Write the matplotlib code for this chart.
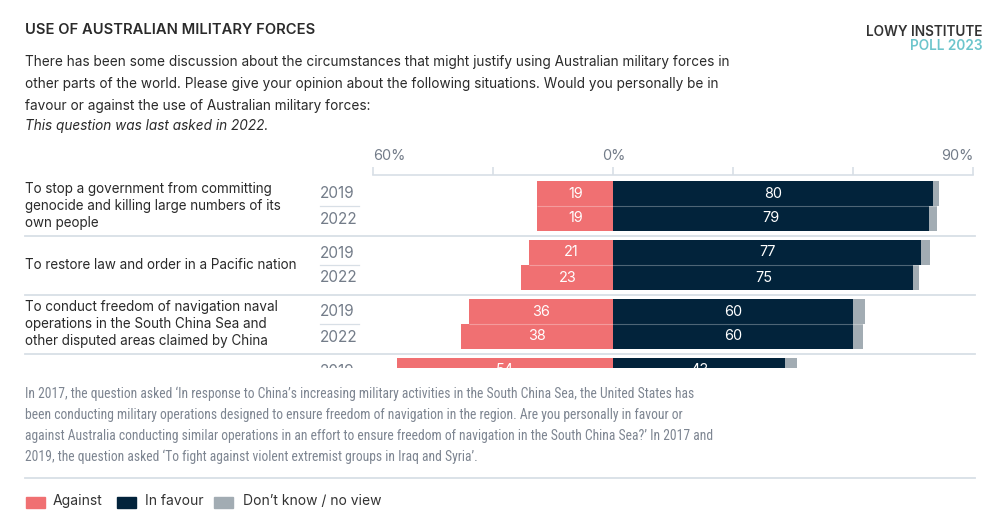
import matplotlib
matplotlib.use("Agg")
import matplotlib.pyplot as plt
from matplotlib.transforms import blended_transform_factory
from matplotlib import font_manager

# ---------------- data ----------------
groups = [
    "To stop a government from committing\ngenocide and killing large numbers of its\nown people",
    "To restore law and order in a Pacific nation",
    "To conduct freedom of navigation naval\noperations in the South China Sea and\nother disputed areas claimed by China",
    "To fight against violent extremist groups in\nIraq and Syria",
]
years = [["2019", "2022"], ["2019", "2022"], ["2019", "2022"], ["2019"]]
against = [[19, 19], [21, 23], [36, 38], [54]]
favour = [[80, 79], [77, 75], [60, 60], [43]]
dont_know = [[1.5, 1.8], [2.2, 1.3], [2.9, 2.5], [2.9]]
tick_values = [-60, -30, 0, 30, 60, 90]
tick_labels = ["60%", "", "0%", "", "", "90%"]
legend_labels = ["Against", "In favour", "Don\u2019t know / no view"]

RED = "#F07072"
NAVY = "#02233B"
GREY = "#A2ACB3"
LINE = "#D8DFE6"
TXT = "#2A2A2A"
MUTED = "#737C89"
TEAL = "#6CC5CC"

installed = {f.name for f in font_manager.fontManager.ttflist}
MAIN = ["Inter", "DejaVu Sans"] if "Inter" in installed else ["DejaVu Sans"]
plt.rcParams["font.family"] = MAIN

# find a condensed face for the footnote
NARROW_FAMILY, NARROW_STRETCH = None, "normal"
for cand in ["Roboto Condensed", "Liberation Sans Narrow", "Open Sans Condensed",
             "Noto Sans Condensed", "DejaVu Sans Condensed"]:
    if cand in installed:
        NARROW_FAMILY = cand
        break
if NARROW_FAMILY is None:
    for fam in ["Noto Sans", "Open Sans", "DejaVu Sans", "Roboto"]:
        try:
            p = font_manager.findfont(font_manager.FontProperties(family=fam, stretch="condensed"),
                                      fallback_to_default=False)
            if "ondensed" in p or "arrow" in p:
                NARROW_FAMILY, NARROW_STRETCH = fam, "condensed"
                break
        except Exception:
            pass

W, H = 1000, 525
fig = plt.figure(figsize=(W / 100, H / 100), dpi=100)


def fy(y):
    return 1 - y / H


# ---------------- header ----------------
fig.text(25 / W, fy(30), "USE OF AUSTRALIAN MILITARY FORCES", fontsize=10.6,
         fontweight="semibold", color=TXT, va="center", ha="left")
fig.text(982 / W, fy(32), "LOWY INSTITUTE", fontsize=9.8, fontweight="semibold",
         color="#333333", va="center", ha="right")
fig.text(982 / W, fy(46), "POLL 2023", fontsize=9.8, fontweight="semibold",
         color=TEAL, va="center", ha="right")
question = ["There has been some discussion about the circumstances that might justify using Australian military forces in",
            "other parts of the world. Please give your opinion about the following situations. Would you personally be in",
            "favour or against the use of Australian military forces:"]
for i, line in enumerate(question):
    fig.text(25 / W, fy(62 + 22 * i), line, fontsize=9.8, color=TXT, va="center")
fig.text(25 / W, fy(126), "This question was last asked in 2022.", fontsize=9.8,
         color=TXT, va="center", style="italic")

# ---------------- chart axes (y in pixel rows, x in percent) ----------------
x0_px, px_per_pct = 613.33, 4.0
Y_BOTTOM, Y_TOP = 368, 140
ax = fig.add_axes([0, fy(Y_BOTTOM), 1, (Y_BOTTOM - Y_TOP) / H])
ax.set_xlim((0 - x0_px) / px_per_pct, (W - x0_px) / px_per_pct)
ax.set_ylim(Y_BOTTOM, Y_TOP)
for s in ["left", "right", "bottom"]:
    ax.spines[s].set_visible(False)
ax.spines["top"].set_position(("data", 175))
ax.spines["top"].set_bounds(tick_values[0], tick_values[-1])
ax.spines["top"].set_color(LINE)
ax.spines["top"].set_linewidth(1.2)
ax.xaxis.set_ticks_position("top")
ax.set_xticks(tick_values)
ax.set_xticklabels(tick_labels)
ax.tick_params(axis="x", direction="out", length=5.5, width=1.2, color=LINE,
               labelcolor=MUTED, labelsize=10.4, pad=3)
lbls = ax.get_xticklabels()
lbls[0].set_ha("left")
lbls[-1].set_ha("right")
ax.set_yticks([])
ax.patch.set_alpha(0)

bt = blended_transform_factory(fig.transFigure, ax.transData)

TOP, ROW, GAP = 181, 25, 9
for g, name in enumerate(groups):
    gtop = TOP + g * (2 * ROW + GAP)
    # the panel is scrolled: labels of rows below the visible window are hidden
    if gtop + ROW < Y_BOTTOM:
        ax.text(25 / W, gtop + ROW, name, transform=bt, fontsize=9.7, color=TXT,
                va="center", ha="left", linespacing=1.25, clip_on=True)
    for r, yr in enumerate(years[g]):
        yc = gtop + ROW * r + ROW / 2
        a, f, d = against[g][r], favour[g][r], dont_know[g][r]
        ax.barh(yc, -a, height=ROW, left=0, color=RED, linewidth=0)
        ax.barh(yc, f, height=ROW, left=0, color=NAVY, linewidth=0)
        ax.barh(yc, d, height=ROW, left=f, color=GREY, linewidth=0)
        ax.text(-a / 2, yc, f"{a:g}", color="white", fontsize=10.4,
                ha="center", va="center", clip_on=True)
        ax.text(f / 2, yc, f"{f:g}", color="white", fontsize=10.4,
                ha="center", va="center", clip_on=True)
        ax.text(320 / W, yc + 0.5, yr, transform=bt, fontsize=11, color=MUTED,
                ha="left", va="center", clip_on=True)
    if len(years[g]) == 2:
        yb = gtop + ROW
        ax.plot([320 / W, 359 / W], [yb, yb], transform=bt, color=LINE, lw=0.9,
                clip_on=True)
        lo = -min(against[g])
        hi = min(favour[g][k] + dont_know[g][k] for k in range(2))
        ax.hlines(yb, lo, hi, color=(1, 1, 1, 0.3), lw=0.8)
    ysep = gtop + 2 * ROW + GAP / 2
    ax.plot([25 / W, 975 / W], [ysep, ysep], transform=bt, color=LINE, lw=1.3,
            clip_on=True)

# ---------------- footnote ----------------
foot = ["In 2017, the question asked \u2018In response to China\u2019s increasing military activities in the South China Sea, the United States has",
        "been conducting military operations designed to ensure freedom of navigation in the region. Are you personally in favour or",
        "against Australia conducting similar operations in an effort to ensure freedom of navigation in the South China Sea?\u2019 In 2017 and",
        "2019, the question asked \u2018To fight against violent extremist groups in Iraq and Syria\u2019."]
for i, line in enumerate(foot):
    if NARROW_FAMILY:
        fig.text(25 / W, fy(394 + 21 * i), line, fontsize=9.8, color="#7D8591",
                 va="center", family=NARROW_FAMILY, fontstretch=NARROW_STRETCH)
    else:
        fig.text(25 / W, fy(394 + 21 * i), line, fontsize=8.3, color="#7D8591",
                 va="center")

fig.add_artist(plt.Line2D([25 / W, 975 / W], [fy(478), fy(478)], color=LINE, lw=1.3))

# ---------------- legend ----------------
sw = [(26, RED), (117, NAVY), (214, GREY)]
tx = [53, 145, 243]
for (sx, col), lx, lab in zip(sw, tx, legend_labels):
    fig.add_artist(plt.Rectangle((sx / W, fy(508)), 19 / W, 11 / H, color=col,
                                 transform=fig.transFigure))
    fig.text(lx / W, fy(501), lab, fontsize=10.0, color="#333333", va="center")

fig.savefig("out.png", dpi=100)
